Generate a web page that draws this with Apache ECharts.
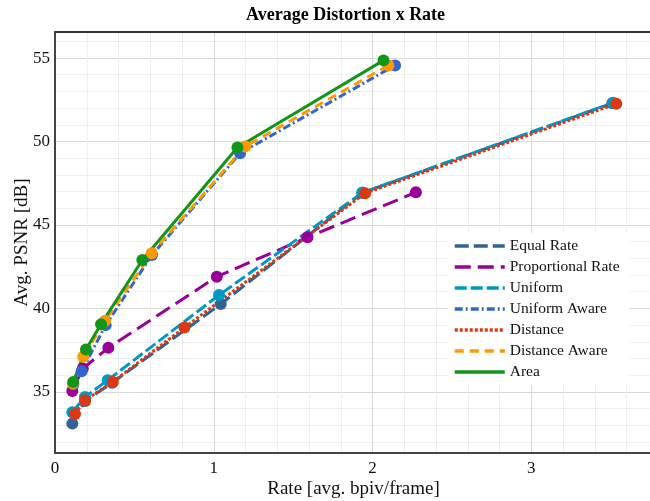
<!DOCTYPE html>
<html>
<head>
<meta charset="utf-8">
<script src="https://cdn.jsdelivr.net/npm/echarts@6/dist/echarts.min.js"></script>
<style>
    html, body { margin: 0; padding: 0; background: #fff; }
    #chart { width: 650px; height: 501px; }
</style>
</head>
<body>
<div id="chart"></div>
<script>
// rate (x) and PSNR (y) per method
var equalRateX = [0.109, 0.19, 0.36, 1.044, 1.935, 3.51];
var equalRateY = [33.10, 34.45, 35.55, 40.26, 46.92, 52.29];

var proportionalX = [0.109, 0.175, 0.336, 1.019, 1.590, 2.273];
var proportionalY = [35.06, 36.40, 37.64, 41.90, 44.26, 46.96];

var uniformX = [0.109, 0.189, 0.332, 1.033, 1.936, 3.514];
var uniformY = [33.78, 34.70, 35.70, 40.80, 46.94, 52.32];

var uniformAwareX = [0.115, 0.168, 0.319, 0.611, 1.166, 2.142];
var uniformAwareY = [35.44, 36.24, 39.00, 43.20, 49.30, 54.56];

var distanceX = [0.126, 0.189, 0.364, 0.815, 1.953, 3.535];
var distanceY = [33.68, 34.50, 35.60, 38.86, 46.90, 52.26];

var distanceAwareX = [0.113, 0.178, 0.315, 0.609, 1.197, 2.100];
var distanceAwareY = [35.50, 37.10, 39.26, 43.30, 49.70, 54.56];

var areaX = [0.115, 0.195, 0.290, 0.550, 1.149, 2.069];
var areaY = [35.60, 37.54, 39.06, 42.90, 49.64, 54.86];

var names = ['Equal Rate', 'Proportional Rate', 'Uniform', 'Uniform Aware', 'Distance', 'Distance Aware', 'Area'];

(function () {
    var myChart = echarts.init(document.getElementById('chart'));
    var font = 'Liberation Serif, Times New Roman, serif';

    function pairs(xs, ys) {
        return xs.map(function (x, i) { return [x, ys[i]]; });
    }

    function line(name, color, dash, xs, ys) {
        return {
            name: name,
            type: 'line',
            data: pairs(xs, ys),
            symbol: 'circle',
            symbolSize: 12,
            showSymbol: true,
            itemStyle: { color: color },
            lineStyle: { color: color, width: 3, type: dash, cap: 'butt' },
            emphasis: { disabled: true },
            animation: false
        };
    }

    var option = {
        title: {
            text: 'Average Distortion x Rate',
            left: 241,
            top: 1,
            textStyle: { fontFamily: font, fontSize: 18, fontWeight: 'bold', color: '#000' }
        },
        legend: {
            orient: 'vertical',
            left: 448,
            top: 233,
            data: names,
            itemWidth: 50,
            itemHeight: 14,
            itemGap: 5,
            backgroundColor: '#fff',
            padding: [5, 10, 5, 5],
            itemStyle: { opacity: 0 },
            lineStyle: { width: 3.5 },
            textStyle: { fontFamily: font, fontSize: 15.5, color: '#111' }
        },
        grid: {
            left: 55,
            right: -2,
            top: 32,
            bottom: 48,
            outerBoundsMode: 'none'
        },
        xAxis: [
            {
                type: 'value',
                min: 0,
                max: 3.76,
                interval: 1,
                name: 'Rate [avg. bpiv/frame]',
                nameLocation: 'middle',
                nameGap: 27,
                nameMoveOverlap: false,
                nameTextStyle: { fontFamily: font, fontSize: 19, color: '#111' },
                axisLine: { show: true, lineStyle: { color: '#444', width: 2 } },
                axisTick: { show: false },
                axisLabel: {
                    fontFamily: font, fontSize: 17, color: '#111', margin: 7,
                    showMaxLabel: false,
                    formatter: function (v) { return v % 1 === 0 ? v : ''; }
                },
                splitLine: { show: true, showMinLine: false, showMaxLine: false, lineStyle: { color: '#d9d9d9', width: 1 } },
                minorTick: { show: false, splitNumber: 5 },
                minorSplitLine: { show: true, lineStyle: { color: '#eeeeee', width: 1 } }
            },
            {
                type: 'value',
                position: 'top',
                min: 0,
                max: 3.76,
                axisLine: { show: true, onZero: false, lineStyle: { color: '#333', width: 2 } },
                axisTick: { show: false },
                axisLabel: { show: false },
                splitLine: { show: false }
            }
        ],
        yAxis: {
            type: 'value',
            min: 31.34,
            max: 56.56,
            name: 'Avg. PSNR [dB]',
            nameLocation: 'middle',
            nameGap: 23,
            nameMoveOverlap: false,
            nameTextStyle: { fontFamily: font, fontSize: 19, color: '#111' },
            axisLine: { show: true, lineStyle: { color: '#444', width: 2 } },
            axisTick: { show: false },
            axisLabel: {
                fontFamily: font, fontSize: 17, color: '#111', margin: 5,
                showMinLabel: false, showMaxLabel: false,
                formatter: function (v) { return v % 5 === 0 ? v : ''; }
            },
            splitLine: { show: true, showMinLine: false, showMaxLine: false, lineStyle: { color: '#d9d9d9', width: 1 } },
            minorTick: { show: false, splitNumber: 5 },
            minorSplitLine: { show: true, lineStyle: { color: '#eeeeee', width: 1 } }
        },
        series: [
            line('Equal Rate', '#316395', [14, 5], equalRateX, equalRateY),
            line('Proportional Rate', '#990099', [16, 7], proportionalX, proportionalY),
            line('Uniform', '#0099c6', [12, 4], uniformX, uniformY),
            line('Uniform Aware', '#3366cc', [8, 3, 2, 3], uniformAwareX, uniformAwareY),
            line('Distance', '#dc3912', [3, 2], distanceX, distanceY),
            line('Distance Aware', '#ff9900', [9, 6], distanceAwareX, distanceAwareY),
            line('Area', '#109618', 'solid', areaX, areaY)
        ],
        animation: false
    };

    myChart.setOption(option);
})();
</script>
</body>
</html>
